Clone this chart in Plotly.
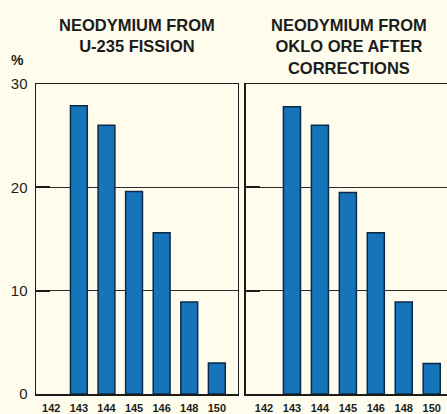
import plotly.graph_objects as go

categories = ["142", "143", "144", "145", "146", "148", "150"]
u235_fission = [None, 27.9, 26.0, 19.6, 15.6, 8.9, 3.0]
oklo_corrected = [None, 27.8, 26.0, 19.5, 15.6, 8.9, 2.95]
y_ticks = [0, 10, 20, 30]
title_left = "NEODYMIUM FROM<br>U-235 FISSION"
title_right = "NEODYMIUM FROM<br>OKLO ORE AFTER<br>CORRECTIONS"

BG = "#fefcec"
BAR = "#1674ba"
EDGE = "#0e2745"
INK = "#1c1c1c"
FONT = "Liberation Sans, Arial, Helvetica, sans-serif"

fig = go.Figure()
fig.add_trace(go.Bar(x=categories, y=u235_fission, xaxis="x", yaxis="y",
                     marker=dict(color=BAR, line=dict(color=EDGE, width=1.5)),
                     showlegend=False, hoverinfo="skip"))
fig.add_trace(go.Bar(x=categories, y=oklo_corrected, xaxis="x2", yaxis="y2",
                     marker=dict(color=BAR, line=dict(color=EDGE, width=1.5)),
                     showlegend=False, hoverinfo="skip"))

xcommon = dict(type="category", showline=True, linecolor=INK, linewidth=1.5,
               mirror=True, showgrid=False, ticks="", zeroline=False,
               tickfont=dict(family=FONT, size=11, color=INK, weight="bold"),
               ticklabelstandoff=3, fixedrange=True)
ycommon = dict(range=[0, 30], tickvals=y_ticks, showline=True, linecolor=INK,
               linewidth=1.5, showgrid=True, gridcolor="#2a2a2a", gridwidth=1,
               ticks="inside", ticklen=14, tickwidth=2, tickcolor=INK,
               zeroline=False, fixedrange=True)

fig.update_layout(
    width=447, height=414,
    margin=dict(l=36, r=0, t=84, b=20),
    paper_bgcolor=BG, plot_bgcolor=BG,
    bargap=0.39,
    font=dict(family=FONT, color=INK),
    xaxis=dict(domain=[0, 0.4903], anchor="y", range=[-0.554, 6.75], **xcommon),
    xaxis2=dict(domain=[0.5102, 1.0], anchor="y2", range=[-0.655, 6.547], **xcommon),
    yaxis=dict(anchor="x", mirror=True, showticklabels=True,
               tickfont=dict(family=FONT, size=15, color=INK),
               ticklabelstandoff=4, **ycommon),
    yaxis2=dict(anchor="x2", mirror=False, showticklabels=False, **ycommon),
    annotations=[
        dict(text=title_left, xref="paper", yref="paper", x=0.2451, y=1.2258,
             xanchor="center", yanchor="top", showarrow=False,
             font=dict(family=FONT, size=16.5, color=INK, weight="bold")),
        dict(text=title_right, xref="paper", yref="paper", x=0.7616, y=1.2258,
             xanchor="center", yanchor="top", showarrow=False,
             font=dict(family=FONT, size=16.5, color=INK, weight="bold")),
        dict(text="%", xref="paper", yref="paper", x=-0.046, y=1.079,
             xanchor="center", yanchor="middle", showarrow=False,
             font=dict(family=FONT, size=14, color=INK, weight="bold")),
    ],
)

# Remove the browser's default 8px body margin so the figure fills the window.
fig.write_html(
    "out.html",
    config={"displayModeBar": False, "staticPlot": True},
    post_script="document.body.style.margin='0';document.body.style.overflow='hidden';",
)
